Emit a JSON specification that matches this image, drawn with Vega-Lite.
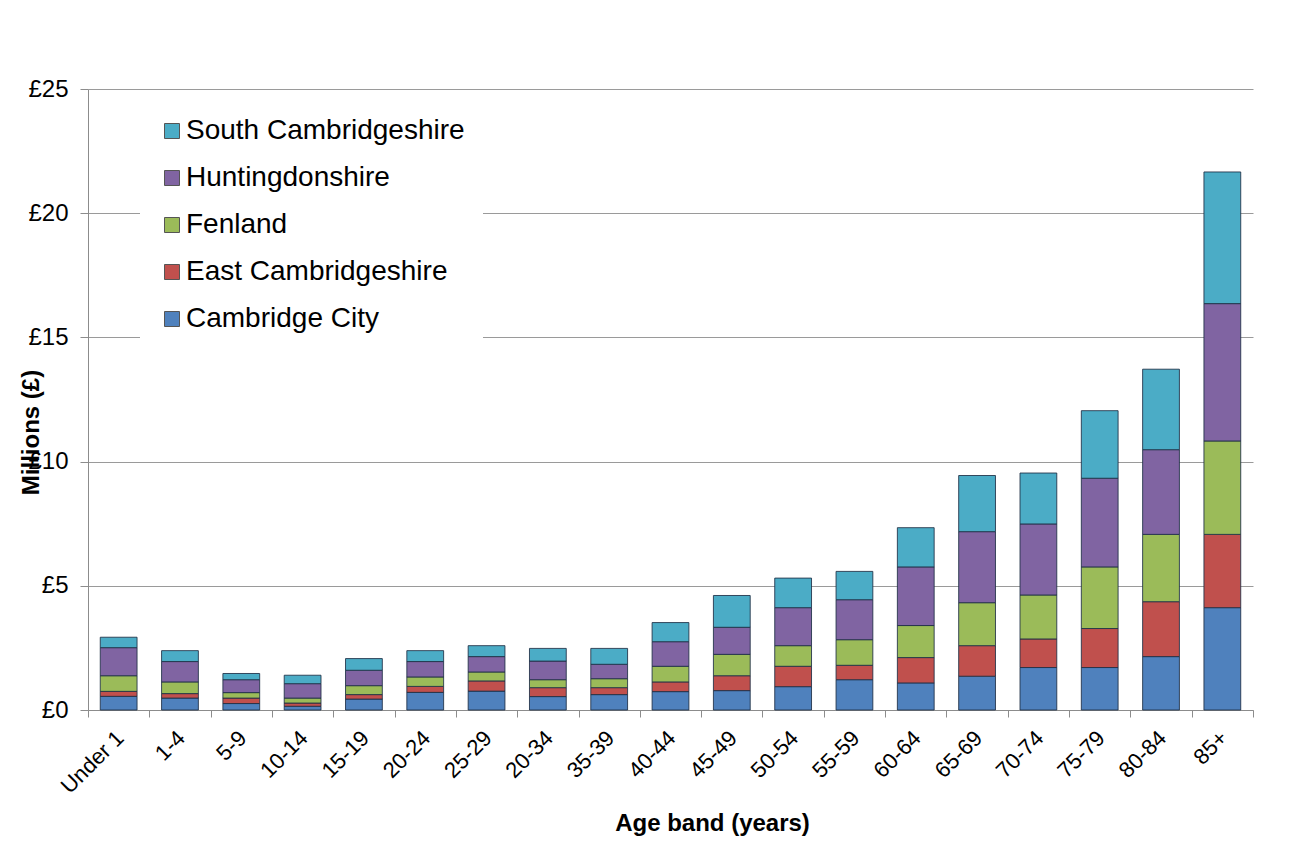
{
  "$schema": "https://vega.github.io/schema/vega-lite/v6.json",
  "width": 1165,
  "height": 621,
  "autosize": {"type": "none"},
  "padding": {"left": 88, "top": 89, "right": 47, "bottom": 138},
  "background": "white",
  "config": {
    "font": "Liberation Sans",
    "view": {"stroke": null},
    "axis": {"labelFont": "Liberation Sans", "titleFont": "Liberation Sans", "labelColor": "black", "titleColor": "black"}
  },
  "data": {
    "values": [
      {"age": "Under 1", "district": "Cambridge City", "value": 0.55},
      {"age": "Under 1", "district": "East Cambridgeshire", "value": 0.20},
      {"age": "Under 1", "district": "Fenland", "value": 0.63},
      {"age": "Under 1", "district": "Huntingdonshire", "value": 1.13},
      {"age": "Under 1", "district": "South Cambridgeshire", "value": 0.42},
      {"age": "1-4", "district": "Cambridge City", "value": 0.48},
      {"age": "1-4", "district": "East Cambridgeshire", "value": 0.18},
      {"age": "1-4", "district": "Fenland", "value": 0.47},
      {"age": "1-4", "district": "Huntingdonshire", "value": 0.82},
      {"age": "1-4", "district": "South Cambridgeshire", "value": 0.44},
      {"age": "5-9", "district": "Cambridge City", "value": 0.26},
      {"age": "5-9", "district": "East Cambridgeshire", "value": 0.22},
      {"age": "5-9", "district": "Fenland", "value": 0.22},
      {"age": "5-9", "district": "Huntingdonshire", "value": 0.52},
      {"age": "5-9", "district": "South Cambridgeshire", "value": 0.25},
      {"age": "10-14", "district": "Cambridge City", "value": 0.15},
      {"age": "10-14", "district": "East Cambridgeshire", "value": 0.13},
      {"age": "10-14", "district": "Fenland", "value": 0.20},
      {"age": "10-14", "district": "Huntingdonshire", "value": 0.58},
      {"age": "10-14", "district": "South Cambridgeshire", "value": 0.34},
      {"age": "15-19", "district": "Cambridge City", "value": 0.44},
      {"age": "15-19", "district": "East Cambridgeshire", "value": 0.18},
      {"age": "15-19", "district": "Fenland", "value": 0.36},
      {"age": "15-19", "district": "Huntingdonshire", "value": 0.62},
      {"age": "15-19", "district": "South Cambridgeshire", "value": 0.47},
      {"age": "20-24", "district": "Cambridge City", "value": 0.71},
      {"age": "20-24", "district": "East Cambridgeshire", "value": 0.24},
      {"age": "20-24", "district": "Fenland", "value": 0.38},
      {"age": "20-24", "district": "Huntingdonshire", "value": 0.62},
      {"age": "20-24", "district": "South Cambridgeshire", "value": 0.44},
      {"age": "25-29", "district": "Cambridge City", "value": 0.76},
      {"age": "25-29", "district": "East Cambridgeshire", "value": 0.41},
      {"age": "25-29", "district": "Fenland", "value": 0.36},
      {"age": "25-29", "district": "Huntingdonshire", "value": 0.62},
      {"age": "25-29", "district": "South Cambridgeshire", "value": 0.44},
      {"age": "20-34", "district": "Cambridge City", "value": 0.54},
      {"age": "20-34", "district": "East Cambridgeshire", "value": 0.36},
      {"age": "20-34", "district": "Fenland", "value": 0.32},
      {"age": "20-34", "district": "Huntingdonshire", "value": 0.75},
      {"age": "20-34", "district": "South Cambridgeshire", "value": 0.51},
      {"age": "35-39", "district": "Cambridge City", "value": 0.62},
      {"age": "35-39", "district": "East Cambridgeshire", "value": 0.28},
      {"age": "35-39", "district": "Fenland", "value": 0.36},
      {"age": "35-39", "district": "Huntingdonshire", "value": 0.58},
      {"age": "35-39", "district": "South Cambridgeshire", "value": 0.64},
      {"age": "40-44", "district": "Cambridge City", "value": 0.74},
      {"age": "40-44", "district": "East Cambridgeshire", "value": 0.39},
      {"age": "40-44", "district": "Fenland", "value": 0.63},
      {"age": "40-44", "district": "Huntingdonshire", "value": 0.99},
      {"age": "40-44", "district": "South Cambridgeshire", "value": 0.77},
      {"age": "45-49", "district": "Cambridge City", "value": 0.78},
      {"age": "45-49", "district": "East Cambridgeshire", "value": 0.60},
      {"age": "45-49", "district": "Fenland", "value": 0.86},
      {"age": "45-49", "district": "Huntingdonshire", "value": 1.09},
      {"age": "45-49", "district": "South Cambridgeshire", "value": 1.28},
      {"age": "50-54", "district": "Cambridge City", "value": 0.94},
      {"age": "50-54", "district": "East Cambridgeshire", "value": 0.82},
      {"age": "50-54", "district": "Fenland", "value": 0.83},
      {"age": "50-54", "district": "Huntingdonshire", "value": 1.53},
      {"age": "50-54", "district": "South Cambridgeshire", "value": 1.19},
      {"age": "55-59", "district": "Cambridge City", "value": 1.22},
      {"age": "55-59", "district": "East Cambridgeshire", "value": 0.58},
      {"age": "55-59", "district": "Fenland", "value": 1.03},
      {"age": "55-59", "district": "Huntingdonshire", "value": 1.61},
      {"age": "55-59", "district": "South Cambridgeshire", "value": 1.14},
      {"age": "60-64", "district": "Cambridge City", "value": 1.09},
      {"age": "60-64", "district": "East Cambridgeshire", "value": 1.02},
      {"age": "60-64", "district": "Fenland", "value": 1.29},
      {"age": "60-64", "district": "Huntingdonshire", "value": 2.36},
      {"age": "60-64", "district": "South Cambridgeshire", "value": 1.58},
      {"age": "65-69", "district": "Cambridge City", "value": 1.36},
      {"age": "65-69", "district": "East Cambridgeshire", "value": 1.23},
      {"age": "65-69", "district": "Fenland", "value": 1.73},
      {"age": "65-69", "district": "Huntingdonshire", "value": 2.86},
      {"age": "65-69", "district": "South Cambridgeshire", "value": 2.26},
      {"age": "70-74", "district": "Cambridge City", "value": 1.71},
      {"age": "70-74", "district": "East Cambridgeshire", "value": 1.15},
      {"age": "70-74", "district": "Fenland", "value": 1.77},
      {"age": "70-74", "district": "Huntingdonshire", "value": 2.86},
      {"age": "70-74", "district": "South Cambridgeshire", "value": 2.05},
      {"age": "75-79", "district": "Cambridge City", "value": 1.71},
      {"age": "75-79", "district": "East Cambridgeshire", "value": 1.57},
      {"age": "75-79", "district": "Fenland", "value": 2.48},
      {"age": "75-79", "district": "Huntingdonshire", "value": 3.57},
      {"age": "75-79", "district": "South Cambridgeshire", "value": 2.72},
      {"age": "80-84", "district": "Cambridge City", "value": 2.15},
      {"age": "80-84", "district": "East Cambridgeshire", "value": 2.21},
      {"age": "80-84", "district": "Fenland", "value": 2.71},
      {"age": "80-84", "district": "Huntingdonshire", "value": 3.41},
      {"age": "80-84", "district": "South Cambridgeshire", "value": 3.24},
      {"age": "85+", "district": "Cambridge City", "value": 4.12},
      {"age": "85+", "district": "East Cambridgeshire", "value": 2.95},
      {"age": "85+", "district": "Fenland", "value": 3.76},
      {"age": "85+", "district": "Huntingdonshire", "value": 5.53},
      {"age": "85+", "district": "South Cambridgeshire", "value": 5.30}
    ]
  },
  "mark": {"type": "bar", "width": {"band": 0.6}, "stroke": "#1f2f45", "strokeWidth": 1, "strokeOpacity": 0.85},
  "encoding": {
    "x": {
      "field": "age",
      "type": "nominal",
      "sort": null,
      "scale": {"paddingInner": 0, "paddingOuter": 0},
      "axis": {
        "title": "Age band (years)",
        "titleFontSize": 24,
        "titleFontWeight": "bold",
        "titleX": 624,
        "titleY": 113,
        "titleBaseline": "middle",
        "titleAlign": "center",
        "labelAngle": -45,
        "labelFontSize": 22,
        "labelPadding": 10,
        "labelOffset": -6,
        "tickBand": "extent",
        "tickSize": 7,
        "tickColor": "#8c8c8c",
        "domainColor": "#8c8c8c",
        "grid": false
      }
    },
    "y": {
      "field": "value",
      "type": "quantitative",
      "aggregate": "sum",
      "stack": "zero",
      "scale": {"domain": [0, 25], "nice": false},
      "axis": {
        "title": "Millions (£)",
        "titleFontSize": 24,
        "titleFontWeight": "bold",
        "titleX": -57,
        "titleY": 343,
        "titleAngle": -90,
        "titleAlign": "center",
        "titleBaseline": "middle",
        "values": [0, 5, 10, 15, 20, 25],
        "labelExpr": "'£' + datum.value",
        "labelFontSize": 24,
        "labelPadding": 12,
        "tickSize": 8,
        "tickColor": "#8c8c8c",
        "domainColor": "#8c8c8c",
        "grid": true,
        "gridColor": "#9a9a9a"
      }
    },
    "color": {
      "field": "district",
      "type": "nominal",
      "scale": {
        "domain": ["South Cambridgeshire", "Huntingdonshire", "Fenland", "East Cambridgeshire", "Cambridge City"],
        "range": ["#4BACC6", "#8064A2", "#9BBB59", "#C0504D", "#4F81BD"]
      },
      "legend": {
        "title": null,
        "orient": "none",
        "legendX": 52,
        "legendY": 10,
        "padding": 18,
        "fillColor": "white",
        "symbolType": "square",
        "symbolSize": 225,
        "symbolStrokeColor": "#555555",
        "symbolStrokeWidth": 1,
        "labelFont": "Liberation Sans",
        "labelFontSize": 28,
        "labelColor": "black",
        "labelOffset": 0,
        "rowPadding": 19,
        "labelLimit": 500
      }
    },
    "order": {"field": "district", "sort": "ascending"}
  }
}
